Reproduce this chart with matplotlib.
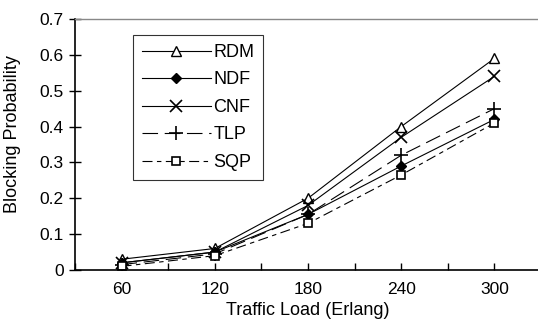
import numpy as np
import matplotlib
matplotlib.use('Agg')
import matplotlib.pyplot as plt

plt.rcParams['font.family'] = ['Liberation Sans', 'DejaVu Sans']

loads = [60, 120, 180, 240, 300]
rdm = [0.03, 0.06, 0.20, 0.40, 0.59]
ndf = [0.02, 0.05, 0.155, 0.29, 0.42]
cnf = [0.02, 0.05, 0.18, 0.37, 0.54]
tlp = [0.015, 0.045, 0.155, 0.32, 0.45]
sqp = [0.01, 0.04, 0.13, 0.265, 0.41]

fig = plt.figure(figsize=(5.38, 3.21), dpi=100)
ax = fig.add_axes([75/538, 51/321, 466/538, 251/321])

x = np.arange(len(loads))
lw = 0.8
ax.plot(x, rdm, color='black', lw=lw, marker='^', ms=7, mfc='white', mec='black', mew=1.0, label='RDM')
ax.plot(x, ndf, color='black', lw=lw, marker='D', ms=5.5, mfc='black', label='NDF')
ax.plot(x, cnf, color='black', lw=lw, marker='x', ms=8, mew=1.2, label='CNF')
ax.plot(x, tlp, color='black', lw=lw, dashes=(14, 6), marker='+', ms=10, mew=1.2, label='TLP')
ax.plot(x, sqp, color='black', lw=lw, dashes=(9, 4, 4, 4), marker='s', ms=6, mfc='white', mec='black', mew=1.2, label='SQP')

ax.set_xlim(-0.5, 4.5)
ax.set_ylim(0, 0.7)
ax.set_xticks(x)
ax.set_xticklabels([str(v) for v in loads])
ax.set_xticks(np.arange(-0.5, 4.6, 1.0), minor=True)
ax.set_yticks(np.arange(0, 0.71, 0.1))
ax.set_yticklabels(['0'] + ['%.1f' % v for v in np.arange(0.1, 0.71, 0.1)])
ax.tick_params(axis='x', which='both', direction='in', length=5, width=1, labelsize=12.5, pad=9)
ax.tick_params(axis='y', direction='inout', length=8, width=1, labelsize=12.5, pad=4)

for s in ['left', 'bottom']:
    ax.spines[s].set_linewidth(1.2)
ax.spines['top'].set_color('#888888')
ax.spines['top'].set_linewidth(1.0)
ax.spines['right'].set_visible(False)

ax.set_xlabel('Traffic Load (Erlang)', fontsize=13, labelpad=3)
ax.set_ylabel('Blocking Probability', fontsize=13, labelpad=6)
ax.yaxis.set_label_coords(-0.115, 0.54)

leg = ax.legend(loc='upper left', bbox_to_anchor=(58/466, 1 - 16/251), fontsize=13,
                frameon=True, fancybox=False, edgecolor='black', handlelength=3.8,
                handletextpad=0.15, labelspacing=0.58, borderpad=0.5, borderaxespad=0)
leg.get_frame().set_linewidth(0.8)

fig.savefig('out.png', dpi=100)
